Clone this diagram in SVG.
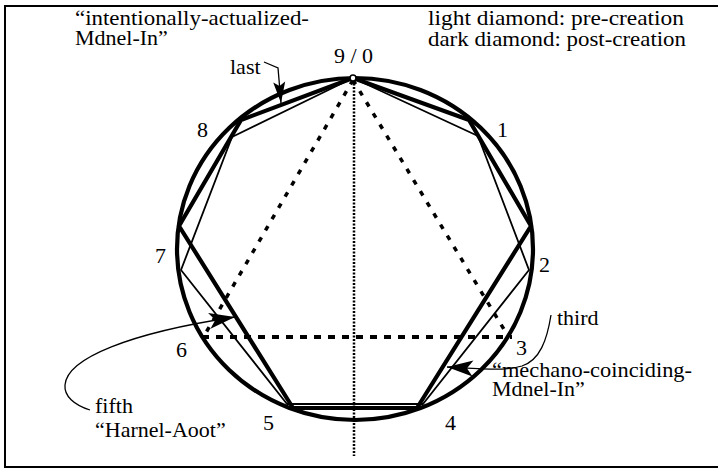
<svg xmlns="http://www.w3.org/2000/svg" width="718" height="469" viewBox="0 0 718 469">
<defs>
<style>
text{font-family:"Liberation Serif","Times New Roman",serif;font-size:22px;fill:#000}
.thick{fill:none;stroke:#000;stroke-width:4.2;stroke-linejoin:round}
.thin{fill:none;stroke:#000;stroke-width:1.8;stroke-linejoin:round}
.dash{fill:none;stroke:#000;stroke-width:3.5;stroke-dasharray:5 8}
.hdash{fill:none;stroke:#000;stroke-width:4;stroke-dasharray:7 7}
.vdot{fill:none;stroke:#000;stroke-width:2.5;stroke-dasharray:2 1.5}
.call{fill:none;stroke:#000;stroke-width:1.3}
</style>
<marker id="ah" viewBox="-2 -10 30 20" refX="26" refY="0" markerWidth="30" markerHeight="20" markerUnits="userSpaceOnUse" orient="auto">
<path d="M0,-8 L26,0 L0,8 L6,0 Z" fill="#000"/>
</marker>
<marker id="ahs" viewBox="-2 -8 24 16" refX="21" refY="0" markerWidth="24" markerHeight="16" markerUnits="userSpaceOnUse" orient="auto">
<path d="M0,-6 L21,0 L0,6 L4,0 Z" fill="#000"/>
</marker>
</defs>
<rect width="718" height="469" fill="#fff"/>
<path d="M718,6 H5 V467 H718" fill="none" stroke="#000" stroke-width="2"/>

<g id="guides">
<line class="vdot" x1="354" y1="80" x2="354" y2="456"/>
<path class="dash" d="M353,80 L204,336"/>
<path class="dash" d="M353,80 L508,336"/>
<line class="hdash" x1="202" y1="337" x2="512" y2="337"/>
</g>

<g id="circle">
<ellipse class="thick" cx="355" cy="249" rx="178" ry="171" stroke-width="4.6"/>
</g>

<g id="dark-diamond">
<polygon class="thick" points="353,78 469,120 531,226 417,408 293,408 179,226 241,120"/>
</g>

<g id="light-diamond">
<polygon class="thin" points="353,78 478,136 529,270 423,404 287,404 181,270 232,137"/>
</g>

<g id="point-0">
<circle cx="353" cy="78" r="3" fill="#fff" stroke="#000" stroke-width="1.6"/>
<text x="334" y="63">9 / 0</text>
</g>

<g id="labels">
<text x="497" y="137">1</text>
<text x="539" y="272">2</text>
<text x="516" y="355">3</text>
<text x="445" y="430">4</text>
<text x="263" y="430">5</text>
<text x="176" y="357">6</text>
<text x="155" y="263">7</text>
<text x="197" y="137">8</text>
</g>

<g id="legend">
<text x="428" y="25" textLength="256" lengthAdjust="spacingAndGlyphs">light diamond: pre-creation</text>
<text x="428" y="46" textLength="258" lengthAdjust="spacingAndGlyphs">dark diamond: post-creation</text>
</g>

<g id="note-last">
<text x="75" y="25" textLength="234" lengthAdjust="spacingAndGlyphs">“intentionally-actualized-</text>
<text x="75" y="45">Mdnel-In”</text>
<text x="230" y="74">last</text>
</g>

<g id="note-third">
<text x="557" y="325">third</text>
<text x="492" y="377" textLength="200" lengthAdjust="spacingAndGlyphs">“mechano-coinciding-</text>
<text x="492" y="396">Mdnel-In”</text>
</g>

<g id="note-fifth">
<text x="95" y="413">fifth</text>
<text x="95" y="437">“Harnel-Aoot”</text>
</g>

<g id="connectors">
<path class="call" d="M264,62 L278,68 L281,103" marker-end="url(#ahs)"/>
<path class="call" d="M551,315 C547,340 540,360 522,366 C505,371 480,369 447,367" marker-end="url(#ah)"/>
<path class="call" d="M90,410 C74,405 64,396 65,385 C67,358 130,333 235,317" marker-end="url(#ah)"/>
</g>
</svg>
